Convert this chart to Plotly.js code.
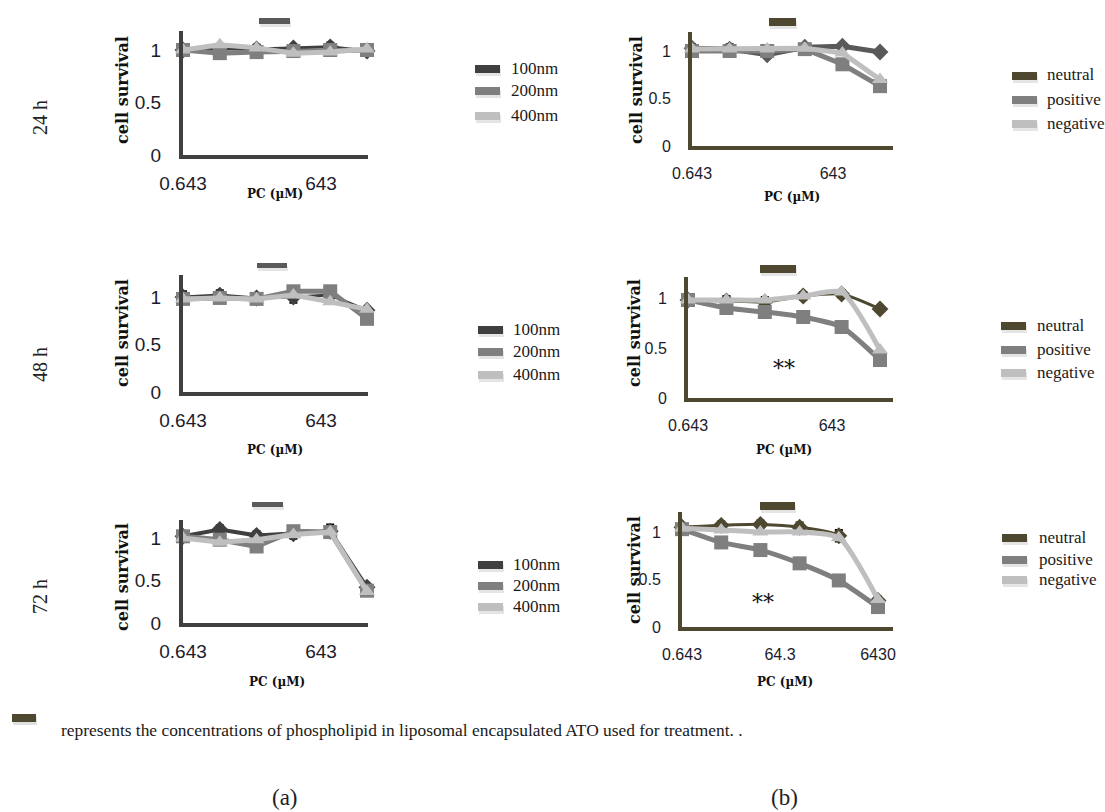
<!DOCTYPE html>
<html><head><meta charset="utf-8">
<script src="https://cdn.plot.ly/plotly-3.0.1.min.js"></script>
<style>html,body{margin:0;padding:0;background:#fff;}#chart{width:1105px;height:812px;}</style>
</head><body><div id="chart"></div>
<script>
// ---------- DATA ----------
const conc = [0.643, 4.06, 25.6, 161.5, 1019, 6430];      // PC (µM), log spaced
const sizeNames = ['100nm', '200nm', '400nm'];
const chargeNames = ['neutral', 'positive', 'negative'];
const timeLabels = ['24 h', '48 h', '72 h'];
const xTickVals = [0.643, 643];
const xTickText = ['0.643', '643'];
const xTickVals72 = [0.643, 64.3, 6430];
const xTickText72 = ['0.643', '64.3', '6430'];
const yTickVals = [0, 0.5, 1];
const yTickText = ['0', '0.5', '1'];

// (a) size series
const size24_100 = [1.00, 1.01, 1.01, 1.02, 1.03, 0.99];
const size24_200 = [1.00, 0.97, 0.98, 0.99, 1.00, 1.00];
const size24_400 = [1.00, 1.05, 1.02, 0.97, 0.98, 1.01];
const size48_100 = [1.00, 1.02, 0.99, 1.00, 1.02, 0.86];
const size48_200 = [0.98, 0.99, 0.98, 1.06, 1.06, 0.77];
const size48_400 = [0.98, 0.99, 0.98, 1.02, 0.95, 0.87];
const size72_100 = [1.02, 1.10, 1.03, 1.05, 1.08, 0.42];
const size72_200 = [1.02, 0.98, 0.90, 1.08, 1.07, 0.38];
const size72_400 = [1.00, 0.95, 0.98, 1.04, 1.07, 0.37];
// (b) charge series
const charge24_neu = [1.03, 1.02, 0.96, 1.04, 1.05, 0.99];
const charge24_pos = [1.00, 1.00, 1.00, 1.02, 0.86, 0.63];
const charge24_negv = [1.02, 1.02, 1.02, 1.03, 0.98, 0.70];
const charge48_neu = [0.98, 0.97, 0.96, 1.02, 1.04, 0.89];
const charge48_pos = [0.98, 0.90, 0.86, 0.81, 0.71, 0.38];
const charge48_negv = [0.98, 0.98, 0.98, 1.02, 1.06, 0.48];
const charge72_neu = [1.05, 1.07, 1.08, 1.05, 0.96, 0.28];
const charge72_pos = [1.03, 0.89, 0.81, 0.67, 0.49, 0.21];
const charge72_negv = [1.04, 1.02, 1.00, 1.00, 0.94, 0.29];
// error bars (dark series)
const err24_100 = [0.03, 0.04, 0.04, 0.03, 0.04, 0.02];
const err48_100 = [0.06, 0.05, 0.05, 0.06, 0.04, 0.03];
const err72_100 = [0.04, 0.05, 0.05, 0.06, 0.08, 0.04];
const err24_neu = [0.04, 0.05, 0.03, 0.03, 0.03, 0.03];
const err48_neu = [0.05, 0.05, 0.05, 0.04, 0.04, 0.03];
const err72_neu = [0.04, 0.04, 0.04, 0.05, 0.06, 0.04];

// ---------- LAYOUT HELPERS ----------
const W = 1105, H = 812;
const fx = x => x / W;
const fy = y => 1 - y / H;
const grayAxis = '#404040', oliveAxis = '#4f4830';
const sizeColors = ['#3f3f3f', '#7f7f7f', '#bfbfbf'];
const chargeColors = ['#4f4830', '#7f7f7f', '#bfbfbf'];
const symbols = ['diamond', 'square', 'triangle-up'];

const panels = [
  {series: [size24_100, size24_200, size24_400], err: err24_100, names: sizeNames, colors: sizeColors, axis: grayAxis,
   x0: 183, xp: 367, x1: 368, py0: 155, py1: 50, pyTop: 31, ticks: 0, shape: 'linear', w0: 3, fs: 19,
   yt: [122, 90], xt: [275, 194], bar: [259, 290, 18, 24], leg: {sx: 475, tx: 509, ys: [69, 91, 116]}},
  {series: [charge24_neu, charge24_pos, charge24_negv], err: err24_neu, names: chargeNames, colors: ['#595959', '#7f7f7f', '#bfbfbf'], axis: oliveAxis,
   x0: 692, xp: 880, x1: 893, py0: 146, py1: 51, pyTop: 32, ticks: 0, shape: 'linear', w0: 5, fs: 16,
   yt: [636, 90], xt: [792, 197], bar: [769, 796, 18, 26], leg: {sx: 1012, tx: 1045, ys: [76, 100, 124]}},
  {series: [size48_100, size48_200, size48_400], err: err48_100, names: sizeNames, colors: sizeColors, axis: grayAxis,
   x0: 183, xp: 367, x1: 368, py0: 392, py1: 297, pyTop: 275, ticks: 0, shape: 'linear', w0: 3, fs: 19,
   yt: [122, 333], xt: [275, 450], bar: [257, 287, 263, 268], leg: {sx: 478, tx: 511, ys: [330, 352, 375]}},
  {series: [charge48_neu, charge48_pos, charge48_negv], err: err48_neu, names: chargeNames, colors: chargeColors, axis: oliveAxis,
   x0: 688, xp: 880, x1: 893, py0: 398, py1: 298, pyTop: 277, ticks: 0, shape: 'spline', w0: 3, fs: 16,
   yt: [634, 333], xt: [784, 450], bar: [760, 796, 265, 273], leg: {sx: 1001, tx: 1035, ys: [326, 350, 373]}, stars: [784, 369]},
  {series: [size72_100, size72_200, size72_400], err: err72_100, names: sizeNames, colors: sizeColors, axis: grayAxis,
   x0: 183, xp: 367, x1: 368, py0: 623, py1: 538, pyTop: 520, ticks: 0, shape: 'linear', w0: 4, fs: 19,
   yt: [122, 577], xt: [277, 682], bar: [252, 283, 502, 507], leg: {sx: 478, tx: 511, ys: [565, 586, 607]}},
  {series: [charge72_neu, charge72_pos, charge72_negv], err: err72_neu, names: chargeNames, colors: chargeColors, axis: oliveAxis,
   x0: 682, xp: 878, x1: 893, py0: 627, py1: 532, pyTop: 512, ticks: 1, shape: 'spline', w0: 3, fs: 16,
   yt: [634, 570], xt: [785, 682], bar: [760, 795, 502, 510], leg: {sx: 1002, tx: 1037, ys: [538, 560, 580]}, stars: [763, 602]}
];

const traces = [];
const layout = {
  width: W, height: H, margin: {l: 0, r: 0, t: 0, b: 0},
  paper_bgcolor: '#ffffff', plot_bgcolor: 'rgba(0,0,0,0)',
  showlegend: false, shapes: [], annotations: [],
  font: {family: 'Liberation Sans, Arial, sans-serif', color: '#222'}
};

const serifB = 'DejaVu Serif, Liberation Serif, serif';
const serif = 'Liberation Serif, Times New Roman, serif';

panels.forEach((p, i) => {
  const n = i + 1;
  const xa = n === 1 ? 'x' : 'x' + n, ya = n === 1 ? 'y' : 'y' + n;
  const xKey = n === 1 ? 'xaxis' : 'xaxis' + n, yKey = n === 1 ? 'yaxis' : 'yaxis' + n;
  const a = Math.log10(conc[0]), b = Math.log10(conc[conc.length - 1]);
  const k = (b - a) / (p.xp - p.x0);
  const tickFont = {family: 'Liberation Sans, Arial, sans-serif', size: p.fs, color: '#1c1c2c'};
  layout[xKey] = {
    type: 'log', domain: [fx(p.x0), fx(p.x1)], range: [a, a + k * (p.x1 - p.x0)], anchor: ya,
    showline: true, linewidth: 4, linecolor: p.axis, showgrid: false, zeroline: false,
    tickmode: 'array', tickvals: p.ticks ? xTickVals72 : xTickVals, ticktext: p.ticks ? xTickText72 : xTickText,
    ticks: 'outside', ticklen: p.fs > 17 ? 8 : 10, tickcolor: 'rgba(0,0,0,0)', tickfont: tickFont, fixedrange: true
  };
  layout[yKey] = {
    domain: [fy(p.py0), fy(p.pyTop)], range: [0, (p.py0 - p.pyTop) / (p.py0 - p.py1)], anchor: xa,
    showline: true, linewidth: 4, linecolor: p.axis, showgrid: false, zeroline: false,
    tickmode: 'array', tickvals: yTickVals, ticktext: yTickText,
    ticks: 'outside', ticklen: 14, tickcolor: 'rgba(0,0,0,0)', tickfont: tickFont, fixedrange: true
  };
  p.series.forEach((vals, s) => {
    const t = {
      type: 'scatter', mode: 'lines+markers', x: conc, y: vals, name: p.names[s],
      xaxis: xa, yaxis: ya, cliponaxis: false,
      line: {color: p.colors[s], width: s === 0 ? p.w0 : 5, shape: p.shape, smoothing: 0.6},
      marker: {symbol: symbols[s], size: s === 0 ? 13 : 14, color: p.colors[s]}
    };
    if (s === 0) {
      t.error_y = {type: 'data', array: p.err, visible: true, color: '#000', thickness: 2, width: 4};
    }
    traces.push(t);
  });
  // axis titles
  layout.annotations.push({xref: 'paper', yref: 'paper', x: fx(p.yt[0]), y: fy(p.yt[1]), text: '<b>cell survival</b>',
    textangle: -90, showarrow: false, font: {family: serifB, size: 16, color: '#111'}, xanchor: 'center', yanchor: 'middle'});
  layout.annotations.push({xref: 'paper', yref: 'paper', x: fx(p.xt[0]), y: fy(p.xt[1]), text: '<b>PC (µM)</b>',
    showarrow: false, font: {family: serifB, size: 12, color: '#111'}, xanchor: 'center', yanchor: 'middle'});
  // concentration bar
  const [bx0, bx1, by0, by1] = p.bar;
  const barColor = p.axis === grayAxis ? '#5a5a5a' : '#4f4830';
  layout.shapes.push({type: 'rect', xref: 'paper', yref: 'paper', x0: fx(bx0 + 1), x1: fx(bx1 + 1), y0: fy(by1 + 3), y1: fy(by0 + 3),
    fillcolor: 'rgba(0,0,0,0.10)', line: {width: 0}});
  layout.shapes.push({type: 'rect', xref: 'paper', yref: 'paper', x0: fx(bx0), x1: fx(bx1), y0: fy(by1), y1: fy(by0),
    fillcolor: barColor, line: {width: 0}});
  // legend
  p.leg.ys.forEach((yy, s) => {
    const legColor = (p.axis === grayAxis ? sizeColors : chargeColors)[s];
    layout.shapes.push({type: 'rect', xref: 'paper', yref: 'paper', x0: fx(p.leg.sx + 1), x1: fx(p.leg.sx + 26), y0: fy(yy + 7), y1: fy(yy - 1),
      fillcolor: 'rgba(0,0,0,0.10)', line: {width: 0}});
    layout.shapes.push({type: 'rect', xref: 'paper', yref: 'paper', x0: fx(p.leg.sx), x1: fx(p.leg.sx + 25), y0: fy(yy + 4), y1: fy(yy - 4),
      fillcolor: legColor, line: {width: 0}});
    layout.annotations.push({xref: 'paper', yref: 'paper', x: fx(p.leg.tx), y: fy(yy - 1), text: p.names[s], showarrow: false,
      xanchor: 'left', yanchor: 'middle', font: {family: serif, size: 17, color: '#1a1a1a'}});
  });
  if (p.stars) {
    layout.annotations.push({xref: 'paper', yref: 'paper', x: fx(p.stars[0]), y: fy(p.stars[1]), text: '**', showarrow: false,
      xanchor: 'center', yanchor: 'middle', font: {family: serifB, size: 22, color: '#111'}});
  }
});

// row labels
[118, 365, 597].forEach((yy, r) => {
  layout.annotations.push({xref: 'paper', yref: 'paper', x: fx(40), y: fy(yy), text: timeLabels[r], textangle: -90,
    showarrow: false, xanchor: 'center', yanchor: 'middle', font: {family: serif, size: 20, color: '#222'}});
});
// footnote
layout.shapes.push({type: 'rect', xref: 'paper', yref: 'paper', x0: fx(13), x1: fx(37), y0: fy(725), y1: fy(717), fillcolor: 'rgba(0,0,0,0.12)', line: {width: 0}});
layout.shapes.push({type: 'rect', xref: 'paper', yref: 'paper', x0: fx(12), x1: fx(36), y0: fy(722), y1: fy(714), fillcolor: '#4f4830', line: {width: 0}});
layout.annotations.push({xref: 'paper', yref: 'paper', x: fx(59), y: fy(730), xanchor: 'left', yanchor: 'middle', showarrow: false,
  text: 'represents the concentrations of phospholipid in liposomal encapsulated ATO used for treatment. .',
  font: {family: serif, size: 17.4, color: '#1a1a1a'}});
layout.annotations.push({xref: 'paper', yref: 'paper', x: fx(270), y: fy(812), yanchor: 'bottom', showarrow: false, text: '(a)',
  font: {family: serif, size: 23, color: '#222'}});
layout.annotations.push({xref: 'paper', yref: 'paper', x: fx(800), y: fy(812), yanchor: 'bottom', showarrow: false, text: '(b)',
  font: {family: serif, size: 23, color: '#222'}});

Plotly.newPlot('chart', traces, layout, {staticPlot: true, displayModeBar: false});
</script>
</body></html>
